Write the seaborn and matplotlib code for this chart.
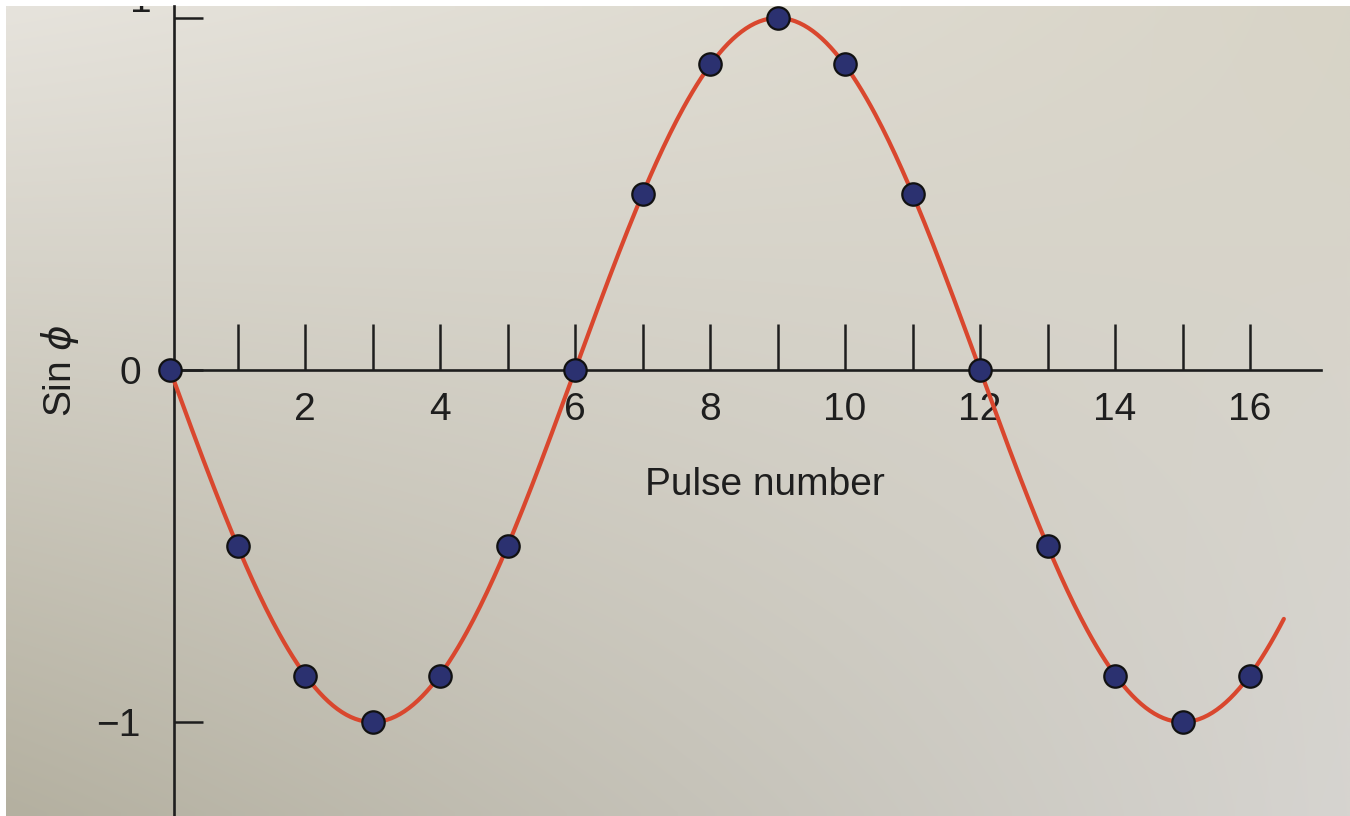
import numpy as np
import pandas as pd
import matplotlib
matplotlib.use("Agg")
import matplotlib.pyplot as plt
import seaborn as sns

# Sampled phase of successive pulses
pulse_number = list(range(17))
sin_phi = [0.0, -0.5, -0.87, -1.0, -0.87, -0.5, 0.0, 0.5, 0.87, 1.0,
           0.87, 0.5, 0.0, -0.5, -0.87, -1.0, -0.87]

# Continuous phase curve: phase falls by 30 degrees per pulse
phase_step_deg = -30.0
curve_end = 16.5

major_ticks = [2, 4, 6, 8, 10, 12, 14, 16]
minor_ticks = [1, 3, 5, 7, 9, 11, 13, 15]
y_ticks = [1, 0, -1]
y_tick_labels = ["", "0", "\u22121"]

sns.set_theme(style="ticks")
plt.rcParams["font.family"] = ["Liberation Sans", "DejaVu Sans"]
plt.rcParams["mathtext.fontset"] = "dejavusans"

W, H = 1350, 816
fig = plt.figure(figsize=(W / 100, H / 100), dpi=100, facecolor="white")
ax = fig.add_axes([6 / W, 0, (W - 6) / W, (H - 6) / H])

xmin, xmax = -2.43, 17.48
ymin, ymax = -1.267, 1.034

# paper-toned backdrop, darker toward the lower left
tl = np.array([0xe6, 0xe3, 0xdc]) / 255
tr = np.array([0xd8, 0xd4, 0xc7]) / 255
bl = np.array([0xb4, 0xb0, 0xa0]) / 255
br = np.array([0xd6, 0xd4, 0xd0]) / 255
u = np.linspace(0, 1, 200)[None, :, None]
v = np.linspace(0, 1, 120)[:, None, None]
paper = (1 - v) * ((1 - u) * tl + u * tr) + v * ((1 - u) * bl + u * br)
ax.imshow(paper, extent=[xmin, xmax, ymin, ymax], aspect="auto",
          interpolation="bilinear", zorder=0)

ink = "#1e1e1e"

curve_x = np.linspace(0, curve_end, 500)
curve_y = np.sin(np.deg2rad(phase_step_deg * curve_x))
sns.lineplot(x=curve_x, y=curve_y, color="#d9472e", linewidth=3.0,
             ax=ax, zorder=3, sort=False)

pts = pd.DataFrame({"pulse": pulse_number, "sin_phi": sin_phi})
sns.scatterplot(data=pts, x="pulse", y="sin_phi", s=260, color="#2b3170",
                edgecolor="#111111", linewidth=1.6, ax=ax, zorder=4)

ax.set_xlim(xmin, xmax)
ax.set_ylim(ymin, ymax)

for side in ("top", "right"):
    ax.spines[side].set_visible(False)
ax.spines["left"].set_position(("data", 0.06))
ax.spines["bottom"].set_position(("data", 0.0))
ax.spines["bottom"].set_bounds(-0.07, 17.05)
for side in ("left", "bottom"):
    ax.spines[side].set_color(ink)
    ax.spines[side].set_linewidth(1.9)
    ax.spines[side].set_zorder(2)

ax.set_xticks(major_ticks)
ax.set_xticks(minor_ticks, minor=True)
ax.set_xticklabels([str(t) for t in major_ticks])
ax.tick_params(axis="x", which="both", direction="in", length=33, width=1.8,
               color=ink, pad=16, labelsize=28, labelcolor=ink)
ax.set_yticks(y_ticks)
ax.set_yticklabels(y_tick_labels)
ax.tick_params(axis="y", direction="in", length=21, width=1.8,
               color=ink, pad=24, labelsize=28, labelcolor=ink)
ax.set_xlabel("")
ax.set_ylabel("")

ax.text(-0.44, 1.045, "1", ha="center", va="center", fontsize=28,
        color=ink, clip_on=True)
ax.text(-1.63, 0.0, "Sin $\\phi$", rotation=90, ha="center", va="center",
        fontsize=28, color=ink)
ax.text(8.81, -0.327, "Pulse number", ha="center", va="center",
        fontsize=28, color=ink)

fig.savefig("out.png", dpi=100, facecolor="white")
